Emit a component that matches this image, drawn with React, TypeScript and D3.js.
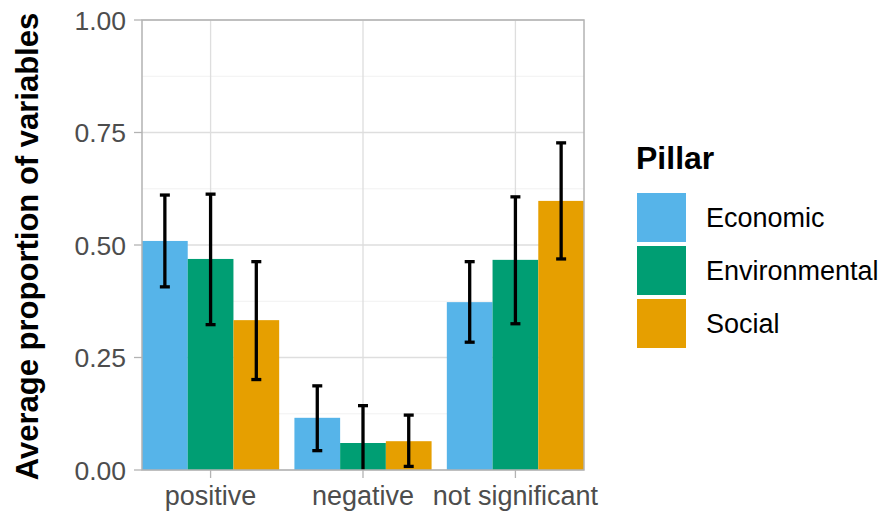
import React from 'react';
import * as d3 from 'd3';

const categories = ['positive', 'negative', 'not significant'];
const pillars = ['Economic', 'Environmental', 'Social'];
const pillarColors = ['#56B4E9', '#009E73', '#E69F00'];

// mean per pillar, one array per category
const meanValues = [
  [0.509, 0.469, 0.333],
  [0.116, 0.060, 0.064],
  [0.373, 0.467, 0.598],
];
const lowerValues = [
  [0.407, 0.323, 0.201],
  [0.043, -0.02, 0.008],
  [0.284, 0.325, 0.469],
];
const upperValues = [
  [0.611, 0.613, 0.463],
  [0.187, 0.143, 0.122],
  [0.463, 0.607, 0.727],
];
const yTicks = [0, 0.25, 0.5, 0.75, 1];
const yMinor = [0.125, 0.375, 0.625, 0.875];

const W = 879;
const H = 511;
const panel = { left: 142, right: 584, top: 20, bottom: 470 };

export default function App() {
  const x = d3.scaleLinear().domain([-0.45, 2.45]).range([panel.left, panel.right]);
  const y = d3.scaleLinear().domain([0, 1]).range([panel.bottom, panel.top]);
  const barW = x(0.3) - x(0);
  const capW = 10;
  const font = 'Liberation Sans, Arial, sans-serif';

  return (
    <svg width={W} height={H} style={{ position: 'absolute', left: 0, top: 0 }}>
      <defs>
        <clipPath id="clip">
          <rect x={panel.left} y={panel.top} width={panel.right - panel.left} height={panel.bottom - panel.top} />
        </clipPath>
      </defs>
      <rect x={0} y={0} width={W} height={H} fill="white" />
      {/* grid */}
      {yMinor.map(t => (
        <line key={'mn' + t} x1={panel.left} x2={panel.right} y1={y(t)} y2={y(t)} stroke="#EBEBEB" strokeWidth={0.7} />
      ))}
      {yTicks.map(t => (
        <line key={'mj' + t} x1={panel.left} x2={panel.right} y1={y(t)} y2={y(t)} stroke="#DEDEDE" strokeWidth={1.3} />
      ))}
      {categories.map((c, i) => (
        <line key={'vx' + c} x1={x(i)} x2={x(i)} y1={panel.top} y2={panel.bottom} stroke="#DEDEDE" strokeWidth={1.3} />
      ))}
      {/* bars */}
      <g clipPath="url(#clip)">
        {categories.map((c, i) =>
          pillars.map((p, j) => {
            const bx = x(i) + (j - 1.5) * barW;
            return (
              <rect key={c + p} x={bx} y={y(meanValues[i][j])} width={barW}
                height={y(0) - y(meanValues[i][j])} fill={pillarColors[j]} />
            );
          })
        )}
        {categories.map((c, i) =>
          pillars.map((p, j) => {
            const cx = x(i) + (j - 1) * barW;
            const lo = y(lowerValues[i][j]);
            const hi = y(upperValues[i][j]);
            return (
              <g key={'e' + c + p} stroke="black" strokeWidth={3.3}>
                <line x1={cx} x2={cx} y1={lo} y2={hi} />
                <line x1={cx - capW / 2} x2={cx + capW / 2} y1={hi} y2={hi} />
                <line x1={cx - capW / 2} x2={cx + capW / 2} y1={lo} y2={lo} />
              </g>
            );
          })
        )}
      </g>
      {/* border */}
      <rect x={panel.left} y={panel.top} width={panel.right - panel.left} height={panel.bottom - panel.top}
        fill="none" stroke="#B3B3B3" strokeWidth={1.5} />
      {/* y axis */}
      {yTicks.map(t => (
        <g key={'yt' + t}>
          <line x1={panel.left - 8} x2={panel.left} y1={y(t)} y2={y(t)} stroke="#B3B3B3" strokeWidth={1.3} />
          <text x={panel.left - 16} y={y(t)} dy="0.36em" textAnchor="end" fontFamily={font} fontSize={26.5} fill="#4D4D4D">
            {t.toFixed(2)}
          </text>
        </g>
      ))}
      {/* x axis */}
      {categories.map((c, i) => (
        <g key={'xt' + c}>
          <line x1={x(i)} x2={x(i)} y1={panel.bottom} y2={panel.bottom + 8} stroke="#B3B3B3" strokeWidth={1.3} />
          <text x={x(i)} y={505} textAnchor="middle" fontFamily={font} fontSize={27} fill="#4D4D4D">{c}</text>
        </g>
      ))}
      <text transform={`translate(38,246.5) rotate(-90)`} textAnchor="middle"
        fontFamily={font} fontSize={31} fontWeight="bold" fill="black">
        Average proportion of variables
      </text>
      {/* legend */}
      <text x={636} y={169} fontFamily={font} fontSize={32} fontWeight="bold" fill="black">Pillar</text>
      {pillars.map((p, j) => (
        <g key={'lg' + p}>
          <rect x={637} y={193 + j * 53} width={49} height={49} fill={pillarColors[j]} />
          <text x={706} y={193 + j * 53 + 24.5} dy="0.36em" fontFamily={font} fontSize={27} fill="black">{p}</text>
        </g>
      ))}
    </svg>
  );
}
